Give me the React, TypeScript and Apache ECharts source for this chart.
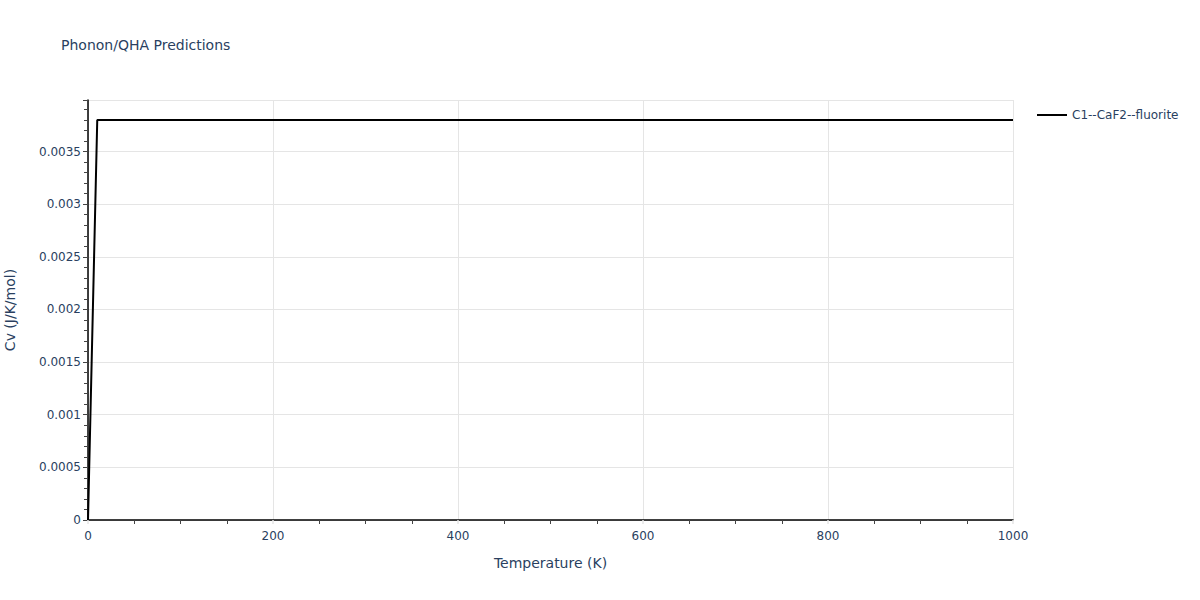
import React from 'react';
import * as echarts from 'echarts';

// Temperature (K) and heat capacity values
const temperatures = [0, 10, 100, 200, 300, 400, 500, 600, 700, 800, 900, 1000];
const cvValues = [0, 0.0038, 0.0038, 0.0038, 0.0038, 0.0038, 0.0038, 0.0038, 0.0038, 0.0038, 0.0038, 0.0038];
const seriesName = 'C1--CaF2--fluorite';
const yTickValues = [0, 0.0005, 0.001, 0.0015, 0.002, 0.0025, 0.003, 0.0035];

const FONT = '"DejaVu Sans", Verdana, sans-serif';
const TEXT = '#2a3f5f';
const GRID = '#e5e5e5';

const App: React.FC = () => {
  const chartRef = React.useRef<HTMLDivElement>(null);

  React.useEffect(() => {
    if (!chartRef.current) return;
    const chart = echarts.init(chartRef.current, undefined, { renderer: 'svg' });

    const option = {
      animation: false,
      backgroundColor: '#fff',
      textStyle: { fontFamily: FONT },
      title: {
        text: 'Phonon/QHA Predictions',
        left: 56,
        top: 33,
        textStyle: { fontFamily: FONT, fontSize: 14, fontWeight: 'normal', color: TEXT },
      },
      legend: {
        left: 1032,
        top: 104,
        itemWidth: 30,
        itemHeight: 2,
        itemGap: 6,
        icon: 'rect',
        textStyle: { fontFamily: FONT, fontSize: 12, color: TEXT },
        data: [seriesName],
      },
      grid: { left: 88, right: 187, top: 100, bottom: 80, containLabel: false, outerBoundsMode: 'none' },
      xAxis: {
        type: 'value',
        min: 0,
        max: 1000,
        interval: 200,
        name: 'Temperature (K)',
        nameLocation: 'middle',
        nameGap: 36,
        nameTextStyle: { fontFamily: FONT, fontSize: 14, color: TEXT },
        axisLine: { show: true, onZero: false, lineStyle: { color: '#000', width: 1.5 } },
        axisTick: { show: true, length: 4, lineStyle: { color: GRID, width: 1.5 } },
        minorTick: { show: true, splitNumber: 4, length: 4, lineStyle: { color: '#444', width: 1 } },
        axisLabel: {
          fontFamily: FONT,
          fontSize: 12,
          color: TEXT,
          margin: 10,
          formatter: (v: number) => String(v),
        },
        splitLine: { show: true, lineStyle: { color: GRID, width: 1 } },
      },
      yAxis: {
        type: 'value',
        min: 0,
        max: 0.00399,
        interval: 0.0005,
        name: 'Cv (J/K/mol)',
        nameLocation: 'middle',
        nameGap: 71,
        nameTextStyle: { fontFamily: FONT, fontSize: 14, color: TEXT },
        axisLine: { show: true, onZero: false, lineStyle: { color: '#000', width: 1.5 } },
        axisTick: { show: true, length: 5, lineStyle: { color: '#444', width: 1 } },
        minorTick: { show: true, splitNumber: 5, length: 4, lineStyle: { color: '#444', width: 1 } },
        axisLabel: {
          fontFamily: FONT,
          fontSize: 12,
          color: TEXT,
          margin: 7,
          showMaxLabel: false,
          formatter: (v: number) => {
            const hit = yTickValues.find((t) => Math.abs(t - v) < 1e-9);
            return hit === undefined ? '' : String(hit);
          },
        },
        splitLine: { show: true, lineStyle: { color: GRID, width: 1 } },
      },
      series: [
        {
          name: seriesName,
          type: 'line',
          data: temperatures.map((t, i) => [t, cvValues[i]]),
          symbol: 'none',
          lineStyle: { color: '#000', width: 2 },
          itemStyle: { color: '#000' },
        },
      ],
    };

    chart.setOption(option);
    return () => chart.dispose();
  }, []);

  return (
    <div
      ref={chartRef}
      style={{ position: 'absolute', left: 0, top: 0, width: '1200px', height: '600px' }}
    />
  );
};

export default App;
